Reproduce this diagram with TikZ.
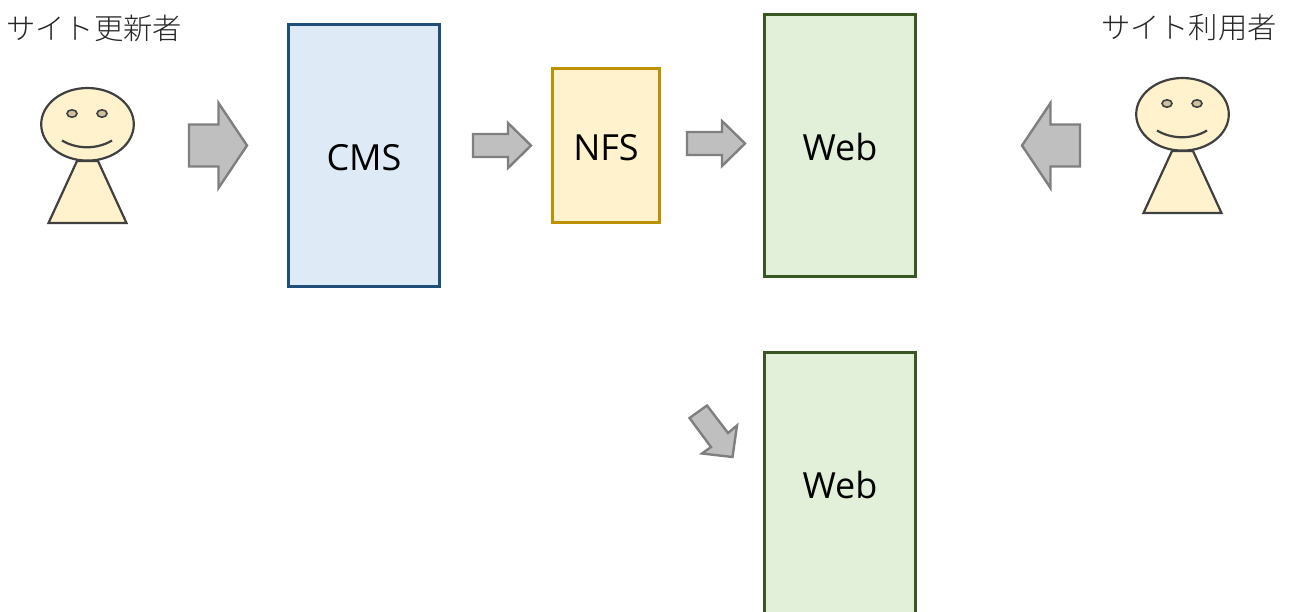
\documentclass[tikz,border=0pt]{standalone}
\usepackage{fontspec}
\setmainfont{Open Sans}
\newfontfamily\cjk{Noto Sans CJK JP Light}
\tikzset{
  x=1pt,y=-1pt,
  blockbox/.style={draw,line width=3pt,inner sep=0pt,text height=30pt,text depth=0pt,font=\fontsize{36}{40}\selectfont,text=black},
  bluebox/.style={blockbox,fill=cmsfill,draw=cmsline,minimum width=151pt,minimum height=262pt},
  yellowbox/.style={blockbox,fill=nfsfill,draw=nfsline,minimum width=107pt,minimum height=154pt},
  greenbox/.style={blockbox,fill=webfill,draw=webline,minimum width=151pt,minimum height=262pt},
  flowarrow/.style={draw=arrowline,fill=arrowfill,line width=2.4pt,line join=miter},
  personpart/.style={draw=personline,fill=nfsfill,line width=2.2pt,line join=miter},
  eyepart/.style={draw=personline,fill=eyefill,line width=1.6pt},
  smilepart/.style={draw=personline,line width=2.2pt},
  caption/.style={inner sep=0pt,font=\cjk\fontsize{29.3}{32}\selectfont,text=textgray}
}
\definecolor{cmsfill}{HTML}{DEEBF7}\definecolor{cmsline}{HTML}{1F4E79}
\definecolor{nfsfill}{HTML}{FFF2CC}\definecolor{nfsline}{HTML}{BF9000}
\definecolor{webfill}{HTML}{E2F0D9}\definecolor{webline}{HTML}{385723}
\definecolor{arrowfill}{HTML}{BFBFBF}\definecolor{arrowline}{HTML}{7F7F7F}
\definecolor{personline}{HTML}{404040}\definecolor{eyefill}{HTML}{CFC0A0}
\definecolor{textgray}{HTML}{262626}
\newcommand{\persondraw}[2]{%
  \begin{scope}[shift={(#1,#2)}]
    \draw[personpart] (48.5,223) -- (77,161) -- (98,161) -- (126.5,223) -- cycle;
    \draw[personpart] (87.5,124.3) ellipse [x radius=46.3,y radius=36.3];
    \draw[eyepart] (72,113.5) ellipse [x radius=5,y radius=3.7];
    \draw[eyepart] (102,113.5) ellipse [x radius=5,y radius=3.7];
    \draw[smilepart] (62,140.5) .. controls (77,149.5) and (97,149.5) .. (112,140.5);
  \end{scope}}
\begin{document}
\begin{tikzpicture}
\useasboundingbox (0,0) rectangle (1290,611);
\node[bluebox] (cms) at (364,155.5) {CMS};
\node[yellowbox] (nfs) at (606,145.5) {NFS};
\node[greenbox] (weba) at (840,145.5) {Web};
\node[greenbox] (webb) at (840,483.5) {Web};
\node[caption,anchor=west] (author) at (6,28) {サイト更新者};
\node[caption,anchor=east] (reader) at (1277,27) {サイト利用者};
\persondraw{0}{0}
\persondraw{1095}{-10}
\draw[flowarrow] (189,124.5)--(218.5,124.5)--(218.5,103)--(247,145.5)--(218.5,188)--(218.5,166.5)--(189,166.5)--cycle;
\draw[flowarrow] (1080,124.5)--(1050.5,124.5)--(1050.5,103)--(1022,145.5)--(1050.5,188)--(1050.5,166.5)--(1080,166.5)--cycle;
\draw[flowarrow] (473,134)--(508,134)--(508,123)--(531,145.5)--(508,168)--(508,157)--(473,157)--cycle;
\draw[flowarrow] (687,132)--(722,132)--(722,121)--(745,143.5)--(722,166)--(722,155)--(687,155)--cycle;
\draw[flowarrow] (689.5,418)--(707,405.5)--(728,433)--(737,425.5)--(732.5,457)--(702,453.5)--(711,447)--cycle;
\end{tikzpicture}
\end{document}
